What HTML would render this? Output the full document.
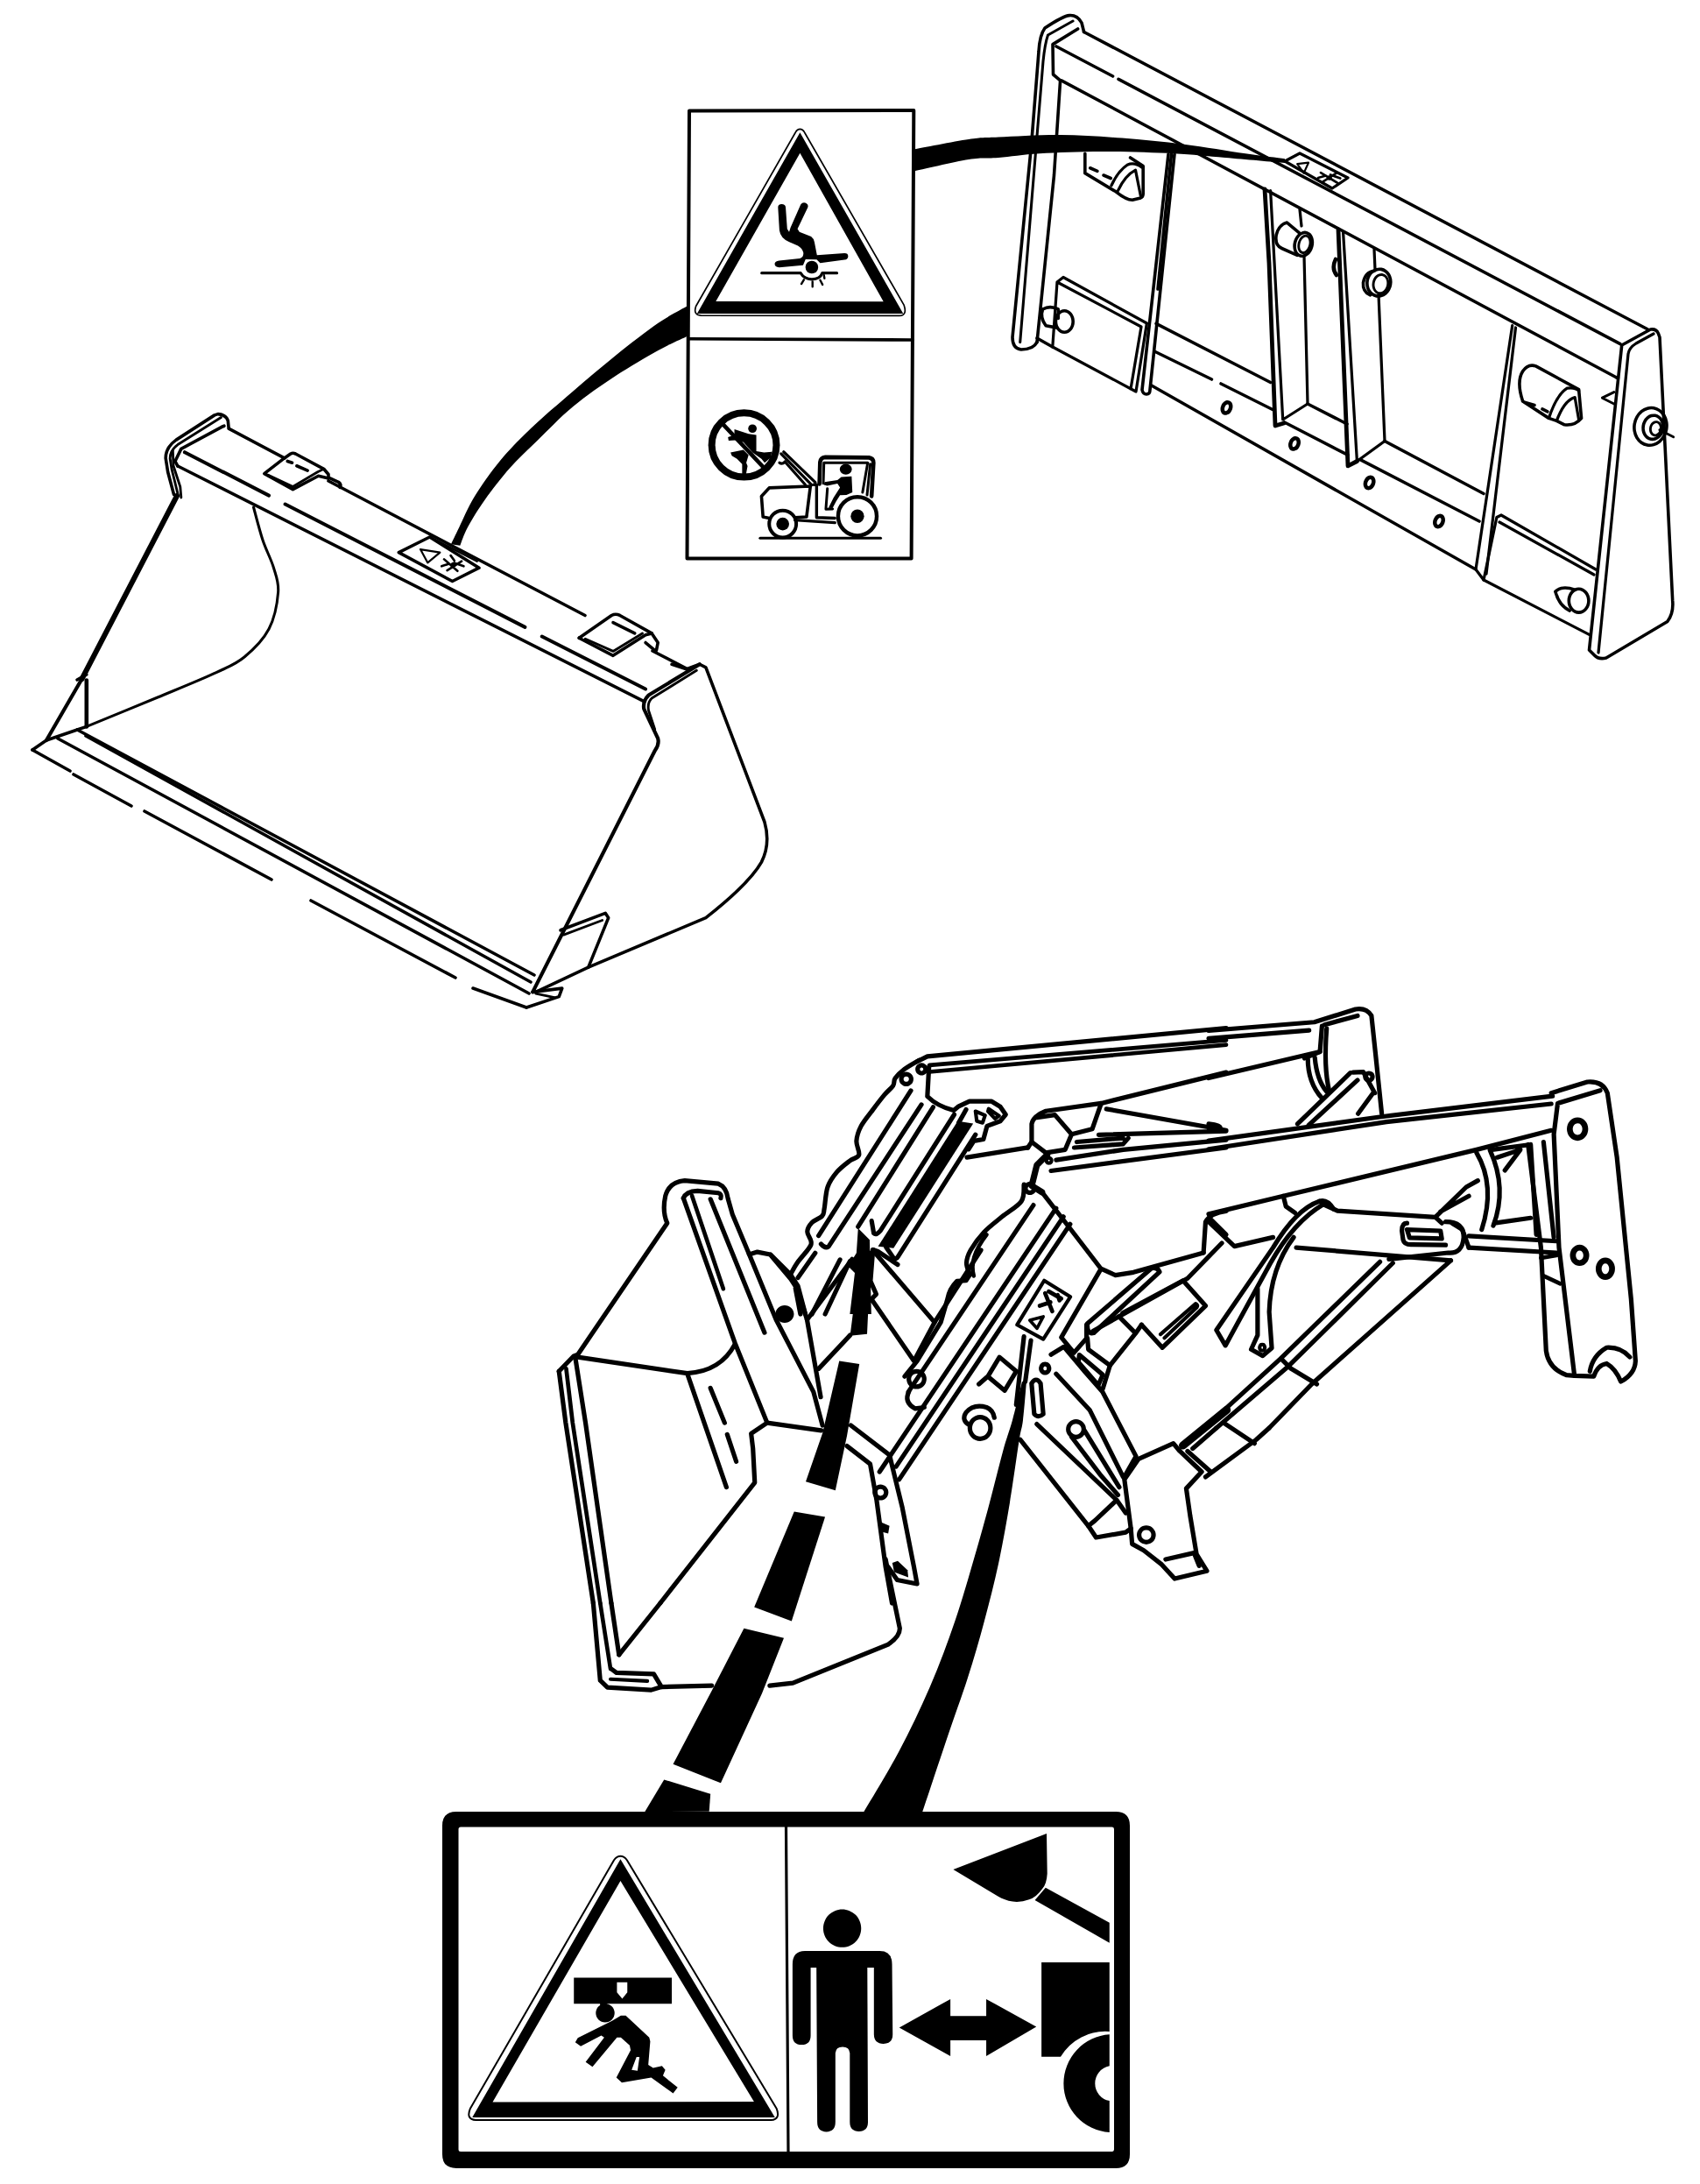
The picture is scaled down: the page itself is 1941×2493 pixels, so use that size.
<!DOCTYPE html>
<html><head><meta charset="utf-8"><title>Decal locations</title>
<style>html,body{margin:0;padding:0;background:#fff;font-family:"Liberation Sans",sans-serif}svg{display:block}</style></head>
<body>
<svg width="1941" height="2493" viewBox="0 0 1941 2493" fill="none" stroke="#000" stroke-linecap="round" stroke-linejoin="round">
<rect x="0" y="0" width="1941" height="2493" fill="#fff" stroke="none"/>
<g transform="translate(150 440) scale(0.176470)">
<path d="M 630,278 L 625,228 Q 612,188 560,185 L 538,192 L 290,352 Q 222,400 222,470 L 236,560 L 275,705" fill="none" stroke-width="20.40" />
<path d="M 580,207 L 300,383 Q 250,420 250,472 L 262,545 L 300,700" fill="none" stroke-width="16.32" />
<path d="M 600,262 L 585,268 L 322,410 L 283,490 L 300,522" fill="none" stroke-width="20.40" />
<path d="M 268,420 L 272,520 L 316,655 L 322,725" fill="none" stroke-width="16.32" />
<path d="M 990,470 L 1030,442 Q 1045,434 1062,442 L 1245,540 L 1275,575 L 1275,600" fill="none" stroke-width="20.40" />
<path d="M 990,470 L 860,570 L 1045,672 L 1210,585 L 1275,600" fill="none" stroke-width="20.40" />
<path d="M 885,580 L 1045,655 L 1205,560 L 1245,540" fill="none" stroke-width="16.32" />
<path d="M 1010,490 L 1040,500 M 1070,520 L 1140,550" fill="none" stroke-width="20.40" />
<path d="M 1285,600 L 1340,625 Q 1360,640 1350,660" fill="none" stroke-width="20.40" />
</g>
<g transform="translate(0 0) scale(1.000000)">
<path d="M 261.5,489.4 L 324.7,522.9" fill="none" stroke-width="3.60" />
<path d="M 375,549 L 668,702.5 M 745,743 L 784.7,763.5" fill="none" stroke-width="3.60" />
<path d="M 210.9,516.2 L 307,565.6 M 325.6,575.5 L 599.4,715.9 M 618.8,726.5 L 737,786.5" fill="none" stroke-width="4.00" />
<path d="M 203,532 L 735.3,800.6" fill="none" stroke-width="3.60" />
<path d="M 202,566 L 93.5,775" fill="none" stroke-width="6.00" />
<path d="M 93.5,775 L 53,845" fill="none" stroke-width="4.20" />
<path d="M 98.8,776.5 L 98.8,829.4" fill="none" stroke-width="4.60" />
<path d="M 88,776 L 98.8,770" fill="none" stroke-width="3.60" />
<path d="M 37,856 L 53,845 L 88.2,833 L 98.8,829.4" fill="none" stroke-width="3.60" />
<path d="M 289.5,579 C 291.2,585.2 296.2,605.0 300.0,616.5 C 303.8,628.0 309.5,638.1 312.4,648.0 C 315.3,657.9 318.5,664.3 317.6,676.0 C 316.7,687.7 313.4,705.7 307.0,718.0 C 300.6,730.3 289.0,741.7 279.0,750.0 C 269.0,758.3 263.5,759.9 247.0,767.6 C 230.5,775.3 204.7,785.7 180.0,796.0 C 155.3,806.3 112.3,823.8 98.8,829.4" fill="none" stroke-width="3.06" />
<path d="M 88.2,833 L 610,1113" fill="none" stroke-width="3.60" />
<path d="M 98,840 L 606,1121" fill="none" stroke-width="3.60" />
<path d="M 66,843 L 604,1134" fill="none" stroke-width="3.60" />
<path d="M 37,856 L 80,880 M 84,884 L 150,920 M 165,926 L 310,1004 M 355,1028 L 520,1116 M 540,1128 L 601,1150" fill="none" stroke-width="3.60" />
<path d="M 455.3,630.6 L 490.6,613 L 547,648.2 L 516.5,663.5 Z" fill="none" stroke-width="3.60" />
</g>
<g transform="translate(400 550) scale(0.352945)">
<path d="M 740,505 L 845,432 Q 858,425 872,432 L 975,490 L 995,520 L 990,545" fill="none" stroke-width="10.20" />
<path d="M 740,505 L 850,562 L 955,495 L 975,490" fill="none" stroke-width="10.20" />
<path d="M 760,508 L 850,548 L 945,490" fill="none" stroke-width="8.16" />
<path d="M 850,455 L 920,490" fill="none" stroke-width="10.20" />
<path d="M 955,520 L 985,545" fill="none" stroke-width="10.20" />
<path d="M 1090,605 L 1130,590 L 1150,600 L 1340,1100 Q 1360,1170 1330,1230 Q 1290,1300 1150,1410 L 770,1570 L 600,1650" fill="none" stroke-width="10.20" />
<path d="M 1130,590 L 965,690 Q 945,710 950,735 L 995,830 Q 1000,850 985,870 L 590,1650" fill="none" stroke-width="11.90" />
<path d="M 1120,610 L 975,700 Q 960,715 965,740 L 985,800" fill="none" stroke-width="8.16" />
<path d="M 1040,590 L 1085,605" fill="none" stroke-width="10.20" />
<path d="M 680,1450 L 825,1395 L 835,1410 L 770,1570" fill="none" stroke-width="10.20" />
<path d="M 690,1465 L 815,1418" fill="none" stroke-width="8.16" />
<path d="M 590,1650 L 685,1638 L 675,1665 L 570,1700" fill="none" stroke-width="10.20" />
<path d="M 600,1655 L 660,1668" fill="none" stroke-width="8.16" />
</g>
<g transform="translate(380 540) scale(0.235294)">
<path d="M 425,370 L 520,385 L 460,435 Z" fill="none" stroke-width="9.35" />
<path d="M 540,418 L 605,475 M 555,472 L 625,428 M 528,452 L 565,440 M 588,436 L 635,452 M 572,400 L 590,425" fill="none" stroke-width="11.05" />
<path d="M 599,445 C 599.0,446.5 598.6,448.2 597.9,449.6 C 597.3,451.0 596.2,452.4 594.9,453.5 C 593.6,454.6 592.0,455.5 590.4,456.1 C 588.7,456.7 586.8,457.0 585.0,457.0 C 583.2,457.0 581.3,456.7 579.6,456.1 C 578.0,455.5 576.4,454.6 575.1,453.5 C 573.8,452.4 572.7,451.0 572.1,449.6 C 571.4,448.2 571.0,446.5 571.0,445.0 C 571.0,443.5 571.4,441.8 572.1,440.4 C 572.7,439.0 573.8,437.6 575.1,436.5 C 576.4,435.4 578.0,434.5 579.6,433.9 C 581.3,433.3 583.2,433.0 585.0,433.0 C 586.8,433.0 588.7,433.3 590.4,433.9 C 592.0,434.5 593.6,435.4 594.9,436.5 C 596.2,437.6 597.3,439.0 597.9,440.4 C 598.6,441.8 599.0,443.5 599.0,445.0 Z" fill="#000" stroke="none" />
<path d="M 470,310 L 700,428" fill="none" stroke-width="10.20" />
</g>
<g transform="translate(1441 150) scale(0.297619)">
<path d="M 135,125 L 178,120 L 160,160 Z" fill="none" stroke-width="7.39" />
<path d="M 225,158 L 290,198 M 235,192 L 285,160 M 215,178 L 245,170 M 262,166 L 300,180" fill="none" stroke-width="8.74" />
<path d="M 268,178 C 268.0,179.1 267.7,180.4 267.2,181.4 C 266.8,182.5 266.0,183.6 265.1,184.4 C 264.2,185.2 263.0,185.9 261.8,186.3 C 260.6,186.8 259.3,187.0 258.0,187.0 C 256.7,187.0 255.4,186.8 254.2,186.3 C 253.0,185.9 251.8,185.2 250.9,184.4 C 250.0,183.6 249.2,182.5 248.8,181.4 C 248.3,180.4 248.0,179.1 248.0,178.0 C 248.0,176.9 248.3,175.6 248.8,174.6 C 249.2,173.5 250.0,172.4 250.9,171.6 C 251.8,170.8 253.0,170.1 254.2,169.7 C 255.4,169.2 256.7,169.0 258.0,169.0 C 259.3,169.0 260.6,169.2 261.8,169.7 C 263.0,170.1 264.2,170.8 265.1,171.6 C 266.0,172.4 266.8,173.5 267.2,174.6 C 267.7,175.6 268.0,176.9 268.0,178.0 Z" fill="#000" stroke="none" />
</g>
<g transform="translate(0 0) scale(1.000000)">
<path d="M 787,126.4 L 1043.3,126 L 1040.6,637.6 L 784.5,637.4 Z" fill="none" stroke-width="4.00" />
<path d="M 786,386.8 L 1042,388" fill="none" stroke-width="3.60" />
</g>
<g transform="translate(780 120) scale(0.158823)">
<path d="M 840,172 Q 860,172 872,195 L 1588,1438 Q 1612,1512 1555,1514 L 128,1512 Q 70,1508 92,1445 L 808,195 Q 820,172 840,172 Z" fill="none" stroke-width="10.70" />
<path d="M 840,196 L 1582,1498 L 100,1498 Z M 840,345 L 235,1410 L 1440,1412 Z" fill="#000" stroke="none" fill-rule="evenodd" stroke-linejoin="round"/>
<path d="M 682,735 Q 682,712 708,712 Q 735,712 737,735 L 748,890 L 762,912 L 772,880 L 845,715 Q 858,695 882,703 Q 903,712 896,735 L 822,890 L 836,912 L 920,945 Q 940,960 944,985 L 962,1078 L 1160,1064 Q 1186,1064 1186,1086 Q 1186,1108 1160,1112 L 985,1135 L 960,1110 L 880,1108 L 862,1150 L 690,1166 Q 658,1166 658,1140 Q 660,1122 690,1118 L 840,1102 Q 868,1092 864,1060 Q 858,1030 825,1010 L 760,982 Q 700,955 692,900 Z" fill="#000" stroke="none" />
<path d="M 925,1165 m -46,0 a 46,46 0 1,0 92,0 a 46,46 0 1,0 -92,0 Z" fill="#000" stroke="none" />
<path d="M 565,1207 L 845,1207 Q 870,1250 925,1252 Q 985,1250 1000,1207 L 1105,1207" fill="none" stroke-width="20.15" />
<path d="M 868,1255 L 850,1285 M 930,1268 L 930,1305 M 985,1258 L 1002,1290 M 1012,1222 L 1016,1245" fill="none" stroke-width="15.11" />
</g>
<g transform="translate(790 440) scale(0.147059)">
<path d="M 405,462 m -251,0 a 251,249 0 1,0 502,0 a 251,249 0 1,0 -502,0 Z" fill="none" stroke-width="54.40" />
<path d="M 245,305 L 565,645" fill="none" stroke-width="31.28" />
<path d="M 470,335 m -33,0 a 33,33 0 1,0 66,0 a 33,33 0 1,0 -66,0 Z" fill="#000" stroke="none" />
<path d="M 330,340 L 440,375 L 500,385 L 500,510 L 560,520 L 620,515 L 612,560 L 565,600 L 540,570 L 470,520 L 400,440 L 340,425 L 285,428 L 280,402 L 330,385 Z" fill="#000" stroke="none" />
<path d="M 300,520 L 400,500 L 440,540 L 422,600 L 432,625 L 420,690 L 390,690 L 390,610 L 350,570 L 310,545 Z" fill="#000" stroke="none" />
<path d="M 530,1185 L 1465,1185" fill="none" stroke-width="21.76" />
<path d="M 705,1075 m -105,0 a 105,105 0 1,0 210,0 a 105,105 0 1,0 -210,0 Z" fill="#fff" stroke-width="27.20" />
<path d="M 705,1075 m -50,0 a 50,50 0 1,0 100,0 a 50,50 0 1,0 -100,0 Z" fill="#000" stroke="none" />
<path d="M 600,1030 L 552,1020 L 540,860 L 600,795 L 920,782 L 890,1020 L 800,1025" fill="none" stroke-width="24.48" />
<path d="M 945,770 L 968,770 L 968,1025 L 1110,1030 M 800,1045 L 1110,1065" fill="none" stroke-width="23.12" />
<path d="M 990,765 L 995,595 Q 1000,560 1035,557 L 1375,560 Q 1410,565 1410,600 L 1395,860" fill="none" stroke-width="31.28" />
<path d="M 1020,760 L 1025,600 L 1365,600 L 1325,830 M 1385,610 L 1360,850" fill="none" stroke-width="20.40" />
<path d="M 930,772 L 692,530 M 958,752 L 712,515 M 722,592 L 880,770 M 680,600 Q 700,615 722,592" fill="none" stroke-width="21.76" />
<path d="M 1195,650 m -47,0 a 47,42 0 1,0 94,0 a 47,42 0 1,0 -94,0 Z" fill="#000" stroke="none" />
<path d="M 1160,710 L 1240,705 L 1246,830 L 1200,850 L 1150,852 L 1120,900 L 1092,952 L 1060,950 L 1100,870 L 1150,792 L 1130,762 L 1050,778 L 1025,772 L 1030,750 L 1130,735 Z" fill="#000" stroke="none" />
<path d="M 1052,800 L 1040,960 L 1092,958" fill="none" stroke-width="20.40" />
<path d="M 1285,1015 m -150,0 a 150,150 0 1,0 300,0 a 150,150 0 1,0 -300,0 Z" fill="#fff" stroke-width="29.92" />
<path d="M 1285,1015 m -52,0 a 52,52 0 1,0 104,0 a 52,52 0 1,0 -104,0 Z" fill="#000" stroke="none" />
</g>
<g transform="translate(470 330) scale(0.194118)">
<path d="M 1625,98 C 1595.8,115.0 1520.8,151.3 1450.0,200.0 C 1379.2,248.7 1283.3,323.3 1200.0,390.0 C 1116.7,456.7 1033.3,528.3 950.0,600.0 C 866.7,671.7 771.7,751.7 700.0,820.0 C 628.3,888.3 575.0,943.3 520.0,1010.0 C 465.0,1076.7 410.0,1155.0 370.0,1220.0 C 330.0,1285.0 303.0,1353.3 280.0,1400.0 C 257.0,1446.7 240.0,1483.3 232.0,1500.0 L 285,1508 C 292.5,1490.0 305.8,1444.7 330.0,1400.0 C 354.2,1355.3 388.3,1298.3 430.0,1240.0 C 471.7,1181.7 528.3,1108.3 580.0,1050.0 C 631.7,991.7 678.3,950.0 740.0,890.0 C 801.7,830.0 873.3,753.3 950.0,690.0 C 1026.7,626.7 1116.7,565.0 1200.0,510.0 C 1283.3,455.0 1379.2,399.2 1450.0,360.0 C 1520.8,320.8 1595.8,289.2 1625.0,275.0 Z" fill="#000" stroke="none" />
</g>
<g transform="translate(0 0) scale(1.000000)">
<path d="M 1041,171 C 1051.8,169.0 1089.5,161.4 1106.0,159.0 C 1122.5,156.6 1122.6,157.3 1140.0,156.5 C 1157.4,155.7 1187.1,153.8 1210.6,154.0 C 1234.1,154.2 1257.5,155.8 1281.0,157.6 C 1304.5,159.4 1328.3,161.8 1351.8,164.7 C 1375.3,167.6 1402.8,172.6 1422.0,175.3 C 1441.2,178.1 1459.5,180.2 1467.0,181.2 L 1467,186 C 1455.7,185.0 1420.2,181.8 1399.0,180.0 C 1377.8,178.2 1363.6,176.5 1340.0,175.3 C 1316.4,174.1 1283.1,173.0 1257.6,173.0 C 1232.1,173.0 1206.6,174.1 1187.0,175.3 C 1167.4,176.5 1153.5,178.9 1140.0,180.0 C 1126.5,181.1 1122.5,179.3 1106.0,182.0 C 1089.5,184.7 1051.8,193.7 1041.0,196.0 Z" fill="#000" stroke="none" />
</g>
<g transform="translate(0 0) scale(1.000000)">
<path d="M 1237.6,36.5 L 1881.5,376" fill="none" stroke-width="3.60" />
<path d="M 1206,53 L 1270.6,87 M 1277,90.4 L 1850,392.6" fill="none" stroke-width="3.60" />
<path d="M 1211.8,91.8 L 1845.8,431" fill="none" stroke-width="3.60" />
<path d="M 1467,184 L 1484,175 L 1539,203 L 1521,215 Z" fill="none" stroke-width="3.24" />
<path d="M 1237.6,36.5 L 1235,26 Q 1230,17 1221,17.6 Q 1214,18 1193,32 Q 1187,40 1186,59 L 1177.6,165 L 1156,385 Q 1156,398 1166,399 Q 1180,399 1184,390.6" fill="none" stroke-width="3.60" />
<path d="M 1196.5,40 L 1225,24 M 1196.5,40 Q 1193,50 1191,70 L 1164.7,390.6" fill="none" stroke-width="3.06" />
<path d="M 1230.6,33 L 1202,50.6 L 1202.5,85 L 1210.6,91.8 L 1203.5,200 L 1184,390.6" fill="none" stroke-width="3.60" />
<path d="M 1334,176 L 1304,445 Q 1305,450 1309,450 Q 1313,450 1313,445 L 1341,176" fill="none" stroke-width="3.60" />
<path d="M 1337.5,176 L 1322,330" fill="none" stroke-width="3.60" />
<path d="M 1201.8,396 L 1207,322 L 1214,316.5 L 1309.4,369 L 1297,447 L 1201.8,396 M 1207,322 L 1303,373 L 1291,444" fill="none" stroke-width="3.24" />
<path d="M 1184,386 L 1201.8,396" fill="none" stroke-width="3.60" />
<path d="M 1320,369.4 L 1450.6,436.5" fill="none" stroke-width="3.60" />
<path d="M 1318,401 L 1383.5,433 M 1394,438 L 1454,468" fill="none" stroke-width="3.60" />
<path d="M 1314.7,440 L 1685,650" fill="none" stroke-width="3.60" />
<path d="M 1466.5,482 L 1539,519.4 M 1493,461 L 1538,484" fill="none" stroke-width="3.60" />
<path d="M 1581,503.5 L 1694,563.5 M 1553,524.7 L 1689,595" fill="none" stroke-width="3.60" />
<path d="M 1444,216 L 1449,300 L 1456,486 L 1466,483" fill="none" stroke-width="4.80" />
<path d="M 1450.6,217.6 L 1464.7,479 L 1493,461" fill="none" stroke-width="3.24" />
<path d="M 1484,239 L 1486,258 M 1489,292 L 1493,461" fill="none" stroke-width="3.24" />
<path d="M 1528,261.8 L 1539,531.8 L 1549.4,526.5" fill="none" stroke-width="4.80" />
<path d="M 1533.6,265.3 L 1549.4,526.5 L 1581,503.5" fill="none" stroke-width="3.24" />
<path d="M 1569,284.7 L 1570,308 M 1574,336 L 1581,503.5" fill="none" stroke-width="3.24" />
<path d="M 1525,296 Q 1520,306 1526,314" fill="none" stroke-width="4.60" />
<path d="M 1726.7,371.7 L 1685,650 L 1694,662 M 1730.5,374 L 1697,655" fill="none" stroke-width="3.24" />
<path d="M 1694,662 L 1708.9,590.5 L 1714,588 L 1822,650 M 1694,662 L 1814.5,724.4 M 1712,596 L 1820,656" fill="none" stroke-width="3.24" />
<path d="M 1851.7,394 L 1884.5,376 Q 1891,375 1893.4,380.6 L 1895,385 L 1909.7,685.7 Q 1911,700 1903.8,709.5 L 1833.9,751 Q 1825,753 1820.5,748 L 1814.5,742 L 1851.7,394" fill="none" stroke-width="3.60" />
<path d="M 1859,404 Q 1860,397 1868,392 L 1888,381 M 1859,404 L 1825,745" fill="none" stroke-width="3.24" />
<path d="M 1845.8,431 L 1847.5,431.5" fill="none" stroke-width="3.60" />
</g>
<g transform="translate(0 0) scale(1.000000)">
<path d="M 1404.58,467.048 C 1404.3,467.8 1403.8,468.6 1403.4,469.2 C 1402.9,469.8 1402.3,470.4 1401.7,470.8 C 1401.1,471.1 1400.4,471.4 1399.8,471.5 C 1399.2,471.6 1398.6,471.5 1398.1,471.3 C 1397.6,471.1 1397.1,470.7 1396.7,470.3 C 1396.4,469.8 1396.1,469.1 1395.9,468.4 C 1395.8,467.7 1395.7,466.9 1395.8,466.1 C 1395.9,465.4 1396.1,464.5 1396.4,463.8 C 1396.7,463.0 1397.2,462.2 1397.6,461.6 C 1398.1,461.0 1398.7,460.4 1399.3,460.0 C 1399.9,459.7 1400.6,459.4 1401.2,459.3 C 1401.8,459.2 1402.4,459.3 1402.9,459.5 C 1403.4,459.7 1403.9,460.1 1404.3,460.5 C 1404.6,461.0 1404.9,461.7 1405.1,462.4 C 1405.2,463.1 1405.3,463.9 1405.2,464.7 C 1405.1,465.4 1404.9,466.3 1404.6,467.0 Z" fill="none" stroke-width="4.50" />
<path d="M 1482.08,508.048 C 1481.8,508.8 1481.3,509.6 1480.9,510.2 C 1480.4,510.8 1479.8,511.4 1479.2,511.8 C 1478.6,512.1 1477.9,512.4 1477.3,512.5 C 1476.7,512.6 1476.1,512.5 1475.6,512.3 C 1475.1,512.1 1474.6,511.7 1474.2,511.3 C 1473.9,510.8 1473.6,510.1 1473.4,509.4 C 1473.3,508.7 1473.2,507.9 1473.3,507.1 C 1473.4,506.4 1473.6,505.5 1473.9,504.8 C 1474.2,504.0 1474.7,503.2 1475.1,502.6 C 1475.6,502.0 1476.2,501.4 1476.8,501.0 C 1477.4,500.7 1478.1,500.4 1478.7,500.3 C 1479.3,500.2 1479.9,500.3 1480.4,500.5 C 1480.9,500.7 1481.4,501.1 1481.8,501.5 C 1482.1,502.0 1482.4,502.7 1482.6,503.4 C 1482.7,504.1 1482.8,504.9 1482.7,505.7 C 1482.6,506.4 1482.4,507.3 1482.1,508.0 Z" fill="none" stroke-width="4.50" />
<path d="M 1567.68,552.648 C 1567.4,553.4 1566.9,554.2 1566.5,554.8 C 1566.0,555.4 1565.4,556.0 1564.8,556.4 C 1564.2,556.7 1563.5,557.0 1562.9,557.1 C 1562.3,557.2 1561.7,557.1 1561.2,556.9 C 1560.7,556.7 1560.2,556.3 1559.8,555.9 C 1559.5,555.4 1559.2,554.7 1559.0,554.0 C 1558.9,553.3 1558.8,552.5 1558.9,551.7 C 1559.0,551.0 1559.2,550.1 1559.5,549.4 C 1559.8,548.6 1560.3,547.8 1560.7,547.2 C 1561.2,546.6 1561.8,546.0 1562.4,545.6 C 1563.0,545.3 1563.7,545.0 1564.3,544.9 C 1564.9,544.8 1565.5,544.9 1566.0,545.1 C 1566.5,545.3 1567.0,545.7 1567.4,546.1 C 1567.7,546.6 1568.0,547.3 1568.2,548.0 C 1568.3,548.7 1568.4,549.5 1568.3,550.3 C 1568.2,551.0 1568.0,551.9 1567.7,552.6 Z" fill="none" stroke-width="4.50" />
<path d="M 1647.08,596.648 C 1646.8,597.4 1646.3,598.2 1645.9,598.8 C 1645.4,599.4 1644.8,600.0 1644.2,600.4 C 1643.6,600.7 1642.9,601.0 1642.3,601.1 C 1641.7,601.2 1641.1,601.1 1640.6,600.9 C 1640.1,600.7 1639.6,600.3 1639.2,599.9 C 1638.9,599.4 1638.6,598.7 1638.4,598.0 C 1638.3,597.3 1638.2,596.5 1638.3,595.7 C 1638.4,595.0 1638.6,594.1 1638.9,593.4 C 1639.2,592.6 1639.7,591.8 1640.1,591.2 C 1640.6,590.6 1641.2,590.0 1641.8,589.6 C 1642.4,589.3 1643.1,589.0 1643.7,588.9 C 1644.3,588.8 1644.9,588.9 1645.4,589.1 C 1645.9,589.3 1646.4,589.7 1646.8,590.1 C 1647.1,590.6 1647.4,591.3 1647.6,592.0 C 1647.7,592.7 1647.8,593.5 1647.7,594.3 C 1647.6,595.0 1647.4,595.9 1647.1,596.6 Z" fill="none" stroke-width="4.50" />
</g>
<g transform="translate(1140 0) scale(0.235294)">
<path d="M 420,745 L 420,840 L 570,930 Q 620,970 650,970 L 690,960 Q 702,955 702,940 L 702,805 L 640,765" fill="none" stroke-width="15.30" />
<path d="M 548,900 Q 580,830 625,800 Q 660,785 695,812 M 580,925 Q 615,850 665,825 L 690,950" fill="none" stroke-width="13.77" />
<path d="M 445,815 L 480,830 M 510,850 L 545,865" fill="none" stroke-width="15.30" />
<path d="M 362,1560 C 362.0,1566.6 360.9,1573.8 358.8,1579.9 C 356.8,1586.0 353.5,1592.1 349.7,1596.8 C 345.9,1601.5 341.0,1605.5 336.1,1608.0 C 331.1,1610.6 325.4,1612.0 320.0,1612.0 C 314.6,1612.0 308.9,1610.6 303.9,1608.0 C 299.0,1605.5 294.1,1601.5 290.3,1596.8 C 286.5,1592.1 283.2,1586.0 281.2,1579.9 C 279.1,1573.8 278.0,1566.6 278.0,1560.0 C 278.0,1553.4 279.1,1546.2 281.2,1540.1 C 283.2,1534.0 286.5,1527.9 290.3,1523.2 C 294.1,1518.5 299.0,1514.5 303.9,1512.0 C 308.9,1509.4 314.6,1508.0 320.0,1508.0 C 325.4,1508.0 331.1,1509.4 336.1,1512.0 C 341.0,1514.5 345.9,1518.5 349.7,1523.2 C 353.5,1527.9 356.8,1534.0 358.8,1540.1 C 360.9,1546.2 362.0,1553.4 362.0,1560.0 Z" fill="none" stroke-width="15.30" />
<path d="M 215,1500 Q 250,1480 290,1500 L 290,1545 M 215,1500 Q 200,1540 230,1580 L 285,1590" fill="none" stroke-width="15.30" />
<path d="M 1520.57,1195.87 C 1518.7,1203.0 1515.5,1210.4 1511.7,1216.5 C 1508.0,1222.6 1503.1,1228.2 1498.1,1232.3 C 1493.1,1236.4 1487.2,1239.5 1481.7,1240.9 C 1476.1,1242.4 1470.2,1242.4 1465.0,1241.0 C 1459.8,1239.6 1454.7,1236.6 1450.6,1232.6 C 1446.6,1228.6 1443.0,1223.0 1440.7,1216.9 C 1438.4,1210.9 1437.0,1203.5 1436.8,1196.4 C 1436.6,1189.3 1437.5,1181.3 1439.4,1174.1 C 1441.3,1167.0 1444.5,1159.6 1448.3,1153.5 C 1452.0,1147.4 1456.9,1141.8 1461.9,1137.7 C 1466.9,1133.6 1472.8,1130.5 1478.3,1129.1 C 1483.9,1127.6 1489.8,1127.6 1495.0,1129.0 C 1500.2,1130.4 1505.3,1133.4 1509.4,1137.4 C 1513.4,1141.4 1517.0,1147.0 1519.3,1153.1 C 1521.6,1159.1 1523.0,1166.5 1523.2,1173.6 C 1523.4,1180.7 1522.5,1188.7 1520.6,1195.9 Z" fill="none" stroke-width="15.30" />
<path d="M 1511.08,1191.99 C 1509.7,1197.2 1507.5,1202.5 1504.9,1207.0 C 1502.4,1211.4 1499.1,1215.6 1495.8,1218.6 C 1492.4,1221.7 1488.5,1224.0 1484.9,1225.2 C 1481.3,1226.3 1477.5,1226.5 1474.1,1225.6 C 1470.8,1224.7 1467.5,1222.6 1465.0,1219.8 C 1462.4,1217.0 1460.2,1213.0 1458.9,1208.7 C 1457.5,1204.5 1456.7,1199.2 1456.7,1194.1 C 1456.8,1188.9 1457.5,1183.2 1458.9,1178.0 C 1460.3,1172.8 1462.5,1167.5 1465.1,1163.0 C 1467.6,1158.6 1470.9,1154.4 1474.2,1151.4 C 1477.6,1148.3 1481.5,1146.0 1485.1,1144.8 C 1488.7,1143.7 1492.5,1143.5 1495.9,1144.4 C 1499.2,1145.3 1502.5,1147.4 1505.0,1150.2 C 1507.6,1153.0 1509.8,1157.0 1511.1,1161.3 C 1512.5,1165.5 1513.3,1170.8 1513.3,1175.9 C 1513.2,1181.1 1512.5,1186.8 1511.1,1192.0 Z" fill="none" stroke-width="12.24" />
<path d="M 1460,1130 L 1400,1080 Q 1360,1090 1348,1140 Q 1340,1190 1375,1205 L 1450,1238" fill="none" stroke-width="15.30" />
</g>
<g transform="translate(1441 150) scale(0.297619)">
<path d="M 492.316,587.814 C 491.2,594.3 488.7,601.2 485.5,606.8 C 482.3,612.5 477.8,617.8 473.0,621.7 C 468.1,625.7 462.3,628.7 456.6,630.3 C 451.0,631.9 444.6,632.2 439.0,631.2 C 433.3,630.2 427.5,627.7 422.7,624.3 C 417.9,620.9 413.5,616.0 410.3,610.7 C 407.1,605.4 404.7,598.8 403.6,592.4 C 402.5,586.0 402.5,578.7 403.7,572.2 C 404.8,565.7 407.3,558.8 410.5,553.2 C 413.7,547.5 418.2,542.2 423.0,538.3 C 427.9,534.3 433.7,531.3 439.4,529.7 C 445.0,528.1 451.4,527.8 457.0,528.8 C 462.7,529.8 468.5,532.3 473.3,535.7 C 478.1,539.1 482.5,544.0 485.7,549.3 C 488.9,554.6 491.3,561.2 492.4,567.6 C 493.5,574.0 493.5,581.3 492.3,587.8 Z" fill="none" stroke-width="12.10" />
<path d="M 482.575,589.862 C 481.8,594.4 480.2,599.1 478.1,603.1 C 476.0,607.0 473.1,610.7 470.1,613.5 C 467.0,616.3 463.3,618.5 459.8,619.6 C 456.2,620.8 452.3,621.1 448.7,620.5 C 445.2,619.8 441.6,618.2 438.7,615.9 C 435.7,613.6 433.0,610.3 431.1,606.6 C 429.2,603.0 427.7,598.5 427.1,594.1 C 426.5,589.7 426.6,584.7 427.4,580.1 C 428.2,575.6 429.8,570.9 431.9,566.9 C 434.0,563.0 436.9,559.3 439.9,556.5 C 443.0,553.7 446.7,551.5 450.2,550.4 C 453.8,549.2 457.7,548.9 461.3,549.5 C 464.8,550.2 468.4,551.8 471.3,554.1 C 474.3,556.4 477.0,559.7 478.9,563.4 C 480.8,567.0 482.3,571.5 482.9,575.9 C 483.5,580.3 483.4,585.3 482.6,589.9 Z" fill="none" stroke-width="9.68" />
<path d="M 430,535 Q 395,540 388,580 Q 385,615 415,628" fill="none" stroke-width="12.10" />
<path d="M 1000,1035 Q 975,960 1000,920 Q 1020,890 1050,900 L 1215,990 L 1225,1100 Q 1200,1130 1160,1125 L 1130,1110 L 1100,1100 L 1000,1035" fill="none" stroke-width="12.10" />
<path d="M 1100,1100 Q 1130,1010 1170,985 Q 1200,980 1215,995 M 1130,1110 Q 1160,1030 1200,1020 L 1215,1105" fill="none" stroke-width="10.89" />
<path d="M 1010,1040 L 1045,1050 M 1075,1065 L 1095,1075" fill="none" stroke-width="12.10" />
<path d="M 1551.06,1142.77 C 1549.5,1151.8 1546.1,1161.3 1541.6,1169.1 C 1537.2,1176.9 1531.0,1184.3 1524.3,1189.8 C 1517.7,1195.2 1509.6,1199.4 1501.8,1201.6 C 1494.0,1203.8 1485.3,1204.3 1477.5,1202.9 C 1469.7,1201.5 1461.7,1198.1 1455.1,1193.4 C 1448.5,1188.7 1442.4,1181.9 1438.0,1174.5 C 1433.6,1167.2 1430.3,1158.1 1428.8,1149.2 C 1427.3,1140.3 1427.3,1130.3 1428.9,1121.2 C 1430.5,1112.2 1433.9,1102.7 1438.4,1094.9 C 1442.8,1087.1 1449.0,1079.7 1455.7,1074.2 C 1462.3,1068.8 1470.4,1064.6 1478.2,1062.4 C 1486.0,1060.2 1494.7,1059.7 1502.5,1061.1 C 1510.3,1062.5 1518.3,1065.9 1524.9,1070.6 C 1531.5,1075.3 1537.6,1082.1 1542.0,1089.5 C 1546.4,1096.8 1549.7,1105.9 1551.2,1114.8 C 1552.7,1123.7 1552.7,1133.7 1551.1,1142.8 Z" fill="none" stroke-width="12.10" />
<path d="M 1537.42,1141.6 C 1536.4,1147.4 1534.3,1153.4 1531.5,1158.4 C 1528.7,1163.4 1524.9,1168.2 1520.8,1171.7 C 1516.7,1175.2 1511.7,1177.9 1506.9,1179.4 C 1502.1,1180.8 1496.8,1181.1 1492.0,1180.3 C 1487.2,1179.5 1482.3,1177.3 1478.3,1174.3 C 1474.3,1171.3 1470.5,1167.0 1467.9,1162.4 C 1465.2,1157.7 1463.3,1151.9 1462.4,1146.2 C 1461.5,1140.6 1461.6,1134.2 1462.6,1128.4 C 1463.6,1122.6 1465.7,1116.6 1468.5,1111.6 C 1471.3,1106.6 1475.1,1101.8 1479.2,1098.3 C 1483.3,1094.8 1488.3,1092.1 1493.1,1090.6 C 1497.9,1089.2 1503.2,1088.9 1508.0,1089.7 C 1512.8,1090.5 1517.7,1092.7 1521.7,1095.7 C 1525.7,1098.7 1529.5,1103.0 1532.1,1107.6 C 1534.8,1112.3 1536.7,1118.1 1537.6,1123.8 C 1538.5,1129.4 1538.4,1135.8 1537.4,1141.6 Z" fill="none" stroke-width="12.10" />
<path d="M 1529.7,1143.47 C 1529.1,1146.7 1528.0,1150.2 1526.5,1153.0 C 1525.0,1155.9 1522.9,1158.6 1520.7,1160.6 C 1518.6,1162.6 1515.9,1164.1 1513.4,1165.0 C 1510.8,1165.8 1508.0,1166.0 1505.5,1165.6 C 1503.0,1165.2 1500.4,1164.0 1498.3,1162.3 C 1496.2,1160.7 1494.2,1158.3 1492.9,1155.6 C 1491.5,1153.0 1490.5,1149.8 1490.1,1146.6 C 1489.6,1143.4 1489.7,1139.8 1490.3,1136.5 C 1490.9,1133.3 1492.0,1129.8 1493.5,1127.0 C 1495.0,1124.1 1497.1,1121.4 1499.3,1119.4 C 1501.4,1117.4 1504.1,1115.9 1506.6,1115.0 C 1509.2,1114.2 1512.0,1114.0 1514.5,1114.4 C 1517.0,1114.8 1519.6,1116.0 1521.7,1117.7 C 1523.8,1119.3 1525.8,1121.7 1527.1,1124.4 C 1528.5,1127.0 1529.5,1130.2 1529.9,1133.4 C 1530.4,1136.6 1530.3,1140.2 1529.7,1143.5 Z" fill="none" stroke-width="9.68" />
<path d="M 1525,1145 L 1578,1172" fill="none" stroke-width="9.68" />
<path d="M 1350,1000 L 1305,1022 L 1350,1045" fill="none" stroke-width="9.68" />
<path d="M 1253,1800 C 1253.0,1805.7 1252.0,1811.9 1250.1,1817.2 C 1248.3,1822.5 1245.3,1827.8 1241.9,1831.8 C 1238.4,1835.9 1234.0,1839.4 1229.5,1841.6 C 1225.1,1843.8 1219.8,1845.0 1215.0,1845.0 C 1210.2,1845.0 1204.9,1843.8 1200.5,1841.6 C 1196.0,1839.4 1191.6,1835.9 1188.1,1831.8 C 1184.7,1827.8 1181.7,1822.5 1179.9,1817.2 C 1178.0,1811.9 1177.0,1805.7 1177.0,1800.0 C 1177.0,1794.3 1178.0,1788.1 1179.9,1782.8 C 1181.7,1777.5 1184.7,1772.2 1188.1,1768.2 C 1191.6,1764.1 1196.0,1760.6 1200.5,1758.4 C 1204.9,1756.2 1210.2,1755.0 1215.0,1755.0 C 1219.8,1755.0 1225.1,1756.2 1229.5,1758.4 C 1234.0,1760.6 1238.4,1764.1 1241.9,1768.2 C 1245.3,1772.2 1248.3,1777.5 1250.1,1782.8 C 1252.0,1788.1 1253.0,1794.3 1253.0,1800.0 Z" fill="none" stroke-width="12.10" />
<path d="M 1200,1758 Q 1150,1740 1125,1765 Q 1140,1820 1180,1838" fill="none" stroke-width="12.10" />
</g>
<g transform="translate(620 1330) scale(0.294118)">
<path d="M 62,800 L 118,742 L 135,735 L 482,225 Q 462,180 475,120 Q 490,65 550,60 L 680,72 Q 712,85 718,130 L 735,190 L 800,345" fill="none" stroke-width="17.68" />
<path d="M 545,128 Q 555,102 600,100 L 680,108 Q 695,112 690,128" fill="none" stroke-width="17.68" />
<path d="M 545,128 L 745,690 L 870,1000" fill="none" stroke-width="17.68" />
<path d="M 578,118 L 700,480" fill="none" stroke-width="15.91" />
<path d="M 650,132 L 860,650" fill="none" stroke-width="17.68" />
<path d="M 800,345 L 905,600 L 1050,880 L 1085,1010" fill="none" stroke-width="17.68" />
<path d="M 805,345 L 832,337 L 882,347 L 962,442 L 988,482 L 1025,600 L 1078,900" fill="none" stroke-width="17.68" />
<path d="M 974,578 C 974.0,582.3 973.0,587.0 971.3,591.0 C 969.5,595.0 966.7,599.0 963.5,602.0 C 960.2,605.1 956.0,607.8 951.8,609.4 C 947.5,611.1 942.6,612.0 938.0,612.0 C 933.4,612.0 928.5,611.1 924.2,609.4 C 920.0,607.8 915.8,605.1 912.5,602.0 C 909.3,599.0 906.5,595.0 904.7,591.0 C 903.0,587.0 902.0,582.3 902.0,578.0 C 902.0,573.7 903.0,569.0 904.7,565.0 C 906.5,561.0 909.3,557.0 912.5,554.0 C 915.8,550.9 920.0,548.2 924.2,546.6 C 928.5,544.9 933.4,544.0 938.0,544.0 C 942.6,544.0 947.5,544.9 951.8,546.6 C 956.0,548.2 960.2,550.9 963.5,554.0 C 966.7,557.0 969.5,561.0 971.3,565.0 C 973.0,569.0 974.0,573.7 974.0,578.0 Z" fill="#000" stroke="none" />
<path d="M 62,800 L 88,1000 L 195,1700" fill="none" stroke-width="17.68" />
<path d="M 90,790 L 115,1000 L 222,1700" fill="none" stroke-width="15.91" />
<path d="M 125,745 L 165,1000 L 265,1700" fill="none" stroke-width="17.68" />
<path d="M 135,745 L 560,808 Q 690,800 745,695" fill="none" stroke-width="17.68" />
<path d="M 562,815 L 712,1250" fill="none" stroke-width="17.68" />
<path d="M 650,865 L 705,1000 M 715,1045 L 750,1150" fill="none" stroke-width="17.68" />
<path d="M 870,1000 L 1080,1030" fill="none" stroke-width="17.68" />
<path d="M 870,1000 L 808,1042 L 815,1100 L 822,1232 L 455,1700" fill="none" stroke-width="17.68" />
<path d="M 1225,330 L 1275,332 L 1270,400 L 1258,655 L 1192,662 L 1205,560 L 1215,400 L 1190,395 Z" fill="#000" stroke="none" />
<path d="M 1150,760 L 1228,772 L 1180,1050 L 1135,1262 L 1020,1228 L 1085,1040 Z" fill="#000" stroke="none" />
<path d="M 975,1345 L 1095,1365 L 965,1770 L 820,1715 Z" fill="#000" stroke="none" />
<path d="M 1025,600 L 1200,365 M 1070,790 L 1192,660" fill="none" stroke-width="17.68" />
<path d="M 1195,1010 L 1345,1125 L 1395,1330 L 1440,1560 L 1452,1625 L 1375,1610 L 1340,1560" fill="none" stroke-width="17.68" />
<path d="M 1180,1090 L 1270,1160 L 1295,1300 L 1330,1560 L 1355,1700" fill="none" stroke-width="17.68" />
<path d="M 1332,1270 C 1332.0,1272.8 1331.4,1275.8 1330.3,1278.4 C 1329.3,1281.0 1327.5,1283.6 1325.6,1285.6 C 1323.6,1287.5 1321.0,1289.3 1318.4,1290.3 C 1315.8,1291.4 1312.8,1292.0 1310.0,1292.0 C 1307.2,1292.0 1304.2,1291.4 1301.6,1290.3 C 1299.0,1289.3 1296.4,1287.5 1294.4,1285.6 C 1292.5,1283.6 1290.7,1281.0 1289.7,1278.4 C 1288.6,1275.8 1288.0,1272.8 1288.0,1270.0 C 1288.0,1267.2 1288.6,1264.2 1289.7,1261.6 C 1290.7,1259.0 1292.5,1256.4 1294.4,1254.4 C 1296.4,1252.5 1299.0,1250.7 1301.6,1249.7 C 1304.2,1248.6 1307.2,1248.0 1310.0,1248.0 C 1312.8,1248.0 1315.8,1248.6 1318.4,1249.7 C 1321.0,1250.7 1323.6,1252.5 1325.6,1254.4 C 1327.5,1256.4 1329.3,1259.0 1330.3,1261.6 C 1331.4,1264.2 1332.0,1267.2 1332.0,1270.0 Z" fill="none" stroke-width="17.68" />
<path d="M 1300,1380 L 1345,1400 L 1340,1430 L 1305,1420 Z" fill="#000" stroke="none" />
<path d="M 1280,330 L 1520,610 L 1440,760 L 1275,520" fill="none" stroke-width="17.68" />
<path d="M 1520,610 L 1700,330" fill="none" stroke-width="17.68" />
<path d="M 1480,830 C 1480.0,833.8 1479.2,837.9 1477.7,841.5 C 1476.3,845.0 1473.9,848.5 1471.2,851.2 C 1468.5,853.9 1465.0,856.3 1461.5,857.7 C 1457.9,859.2 1453.8,860.0 1450.0,860.0 C 1446.2,860.0 1442.1,859.2 1438.5,857.7 C 1435.0,856.3 1431.5,853.9 1428.8,851.2 C 1426.1,848.5 1423.7,845.0 1422.3,841.5 C 1420.8,837.9 1420.0,833.8 1420.0,830.0 C 1420.0,826.2 1420.8,822.1 1422.3,818.5 C 1423.7,815.0 1426.1,811.5 1428.8,808.8 C 1431.5,806.1 1435.0,803.7 1438.5,802.3 C 1442.1,800.8 1446.2,800.0 1450.0,800.0 C 1453.8,800.0 1457.9,800.8 1461.5,802.3 C 1465.0,803.7 1468.5,806.1 1471.2,808.8 C 1473.9,811.5 1476.3,815.0 1477.7,818.5 C 1479.2,822.1 1480.0,826.2 1480.0,830.0 Z" fill="none" stroke-width="17.68" />
<path d="M 1420,880 Q 1400,920 1445,945 L 1480,940" fill="none" stroke-width="17.68" />
</g>
<g transform="translate(880 1180) scale(0.188235)">
<path d="M 900,160 C 885.0,169.2 834.2,196.7 810.0,215.0 C 785.8,233.3 766.3,253.3 755.0,270.0 C 743.7,286.7 752.8,298.3 742.0,315.0 C 731.2,331.7 710.3,345.8 690.0,370.0 C 669.7,394.2 643.7,428.3 620.0,460.0 C 596.3,491.7 564.7,528.3 548.0,560.0 C 531.3,591.7 522.2,620.8 520.0,650.0 C 517.8,679.2 541.7,715.0 535.0,735.0 C 528.3,755.0 502.5,752.5 480.0,770.0 C 457.5,787.5 422.5,813.3 400.0,840.0 C 377.5,866.7 357.5,893.3 345.0,930.0 C 332.5,966.7 330.5,1030.8 325.0,1060.0 C 319.5,1089.2 324.5,1090.8 312.0,1105.0 C 299.5,1119.2 265.0,1129.2 250.0,1145.0 C 235.0,1160.8 222.8,1180.8 222.0,1200.0 C 221.2,1219.2 243.3,1243.3 245.0,1260.0 C 246.7,1276.7 246.2,1278.3 232.0,1300.0 C 217.8,1321.7 178.7,1363.3 160.0,1390.0 C 141.3,1416.7 126.7,1448.3 120.0,1460.0" fill="none" stroke-width="27.62" />
<path d="M 120,1460 L 0,1340 M 120,1460 L 165,1530 L 210,1700 M 150,1545 L 180,1700" fill="none" stroke-width="27.62" />
<path d="M 852,275 C 852.0,278.8 851.2,282.9 849.7,286.5 C 848.3,290.0 845.9,293.5 843.2,296.2 C 840.5,298.9 837.0,301.3 833.5,302.7 C 829.9,304.2 825.8,305.0 822.0,305.0 C 818.2,305.0 814.1,304.2 810.5,302.7 C 807.0,301.3 803.5,298.9 800.8,296.2 C 798.1,293.5 795.7,290.0 794.3,286.5 C 792.8,282.9 792.0,278.8 792.0,275.0 C 792.0,271.2 792.8,267.1 794.3,263.5 C 795.7,260.0 798.1,256.5 800.8,253.8 C 803.5,251.1 807.0,248.7 810.5,247.3 C 814.1,245.8 818.2,245.0 822.0,245.0 C 825.8,245.0 829.9,245.8 833.5,247.3 C 837.0,248.7 840.5,251.1 843.2,253.8 C 845.9,256.5 848.3,260.0 849.7,263.5 C 851.2,267.1 852.0,271.2 852.0,275.0 Z" fill="none" stroke-width="27.62" />
<path d="M 939,215 C 939.0,218.1 938.3,221.4 937.2,224.2 C 936.0,227.0 934.1,229.8 932.0,232.0 C 929.8,234.1 927.0,236.0 924.2,237.2 C 921.4,238.3 918.1,239.0 915.0,239.0 C 911.9,239.0 908.6,238.3 905.8,237.2 C 903.0,236.0 900.2,234.1 898.0,232.0 C 895.9,229.8 894.0,227.0 892.8,224.2 C 891.7,221.4 891.0,218.1 891.0,215.0 C 891.0,211.9 891.7,208.6 892.8,205.8 C 894.0,203.0 895.9,200.2 898.0,198.0 C 900.2,195.9 903.0,194.0 905.8,192.8 C 908.6,191.7 911.9,191.0 915.0,191.0 C 918.1,191.0 921.4,191.7 924.2,192.8 C 927.0,194.0 929.8,195.9 932.0,198.0 C 934.1,200.2 936.0,203.0 937.2,205.8 C 938.3,208.6 939.0,211.9 939.0,215.0 Z" fill="none" stroke-width="27.62" />
<path d="M 850,345 L 290,1225" fill="none" stroke-width="27.62" />
<path d="M 914,430 L 351,1290 Q 330,1305 305,1275" fill="none" stroke-width="27.62" />
<path d="M 270,1330 L 165,1480" fill="none" stroke-width="27.62" />
<path d="M 985,445 L 530,1170" fill="none" stroke-width="27.62" />
<path d="M 1113,490 L 665,1195 Q 640,1225 625,1210 L 612,1135" fill="none" stroke-width="27.62" />
<path d="M 1134,530 L 1228,545 L 745,1300 L 651,1290 Z" fill="#000" stroke="none" />
<path d="M 1185,460 L 1140,540" fill="none" stroke-width="27.62" />
<path d="M 1242,612 L 773,1350 Q 760,1372 745,1360 L 700,1295" fill="none" stroke-width="27.62" />
<path d="M 1190,750 L 1560,690" fill="none" stroke-width="27.62" />
<path d="M 960,200 L 950,380 Q 1010,440 1110,465 L 1140,440 L 1205,410 L 1340,410 L 1392,442 L 1425,490 L 1392,530 L 1312,560 L 1290,640 L 1232,650 L 1200,700" fill="none" stroke-width="27.62" />
<path d="M 1242,470 L 1300,495 L 1285,540 L 1250,530 Z M 1322,455 L 1385,498 L 1360,515 L 1318,470 Z" fill="none" stroke-width="22.10" />
<path d="M 530,1180 L 600,1250 L 610,1700 L 480,1700 L 510,1450 L 470,1410 L 520,1330 Z" fill="#000" stroke="none" />
<path d="M 620,1310 L 650,1320 L 770,1400" fill="none" stroke-width="27.62" />
<path d="M 620,1310 L 605,1500 L 640,1580 L 600,1620" fill="none" stroke-width="27.62" />
<path d="M 420,1370 L 250,1700 M 480,1380 L 330,1700" fill="none" stroke-width="27.62" />
</g>
<g transform="translate(900 1130) scale(0.294118)">
<path d="M 500,278 L 540,258 L 1700,148" fill="none" stroke-width="17.68" />
<path d="M 548,292 L 1700,195" fill="none" stroke-width="15.91" />
<path d="M 548,318 L 1700,213" fill="none" stroke-width="15.91" />
<path d="M 1700,320 L 1215,440 L 1000,470 Q 950,490 945,520 L 945,590 L 930,612" fill="none" stroke-width="17.68" />
<path d="M 965,495 L 1035,485 L 1100,560 L 1075,620 L 1000,632 L 945,590" fill="none" stroke-width="17.68" />
<path d="M 1100,560 L 1180,540 L 1215,440" fill="none" stroke-width="17.68" />
<path d="M 1235,462 L 1700,545 M 1205,562 L 1700,548" fill="none" stroke-width="17.68" />
<path d="M 1120,590 L 1300,575 M 1110,612 L 1300,598 L 1320,575" fill="none" stroke-width="17.68" />
<path d="M 1040,660 L 1300,620 L 1700,582" fill="none" stroke-width="17.68" />
<path d="M 1020,702 L 1700,612" fill="none" stroke-width="17.68" />
<path d="M 1005,640 L 965,680 L 945,760 L 985,785" fill="none" stroke-width="24.48" />
<path d="M 1022,662 C 1022.0,663.3 1021.7,664.6 1021.2,665.8 C 1020.8,667.0 1020.0,668.2 1019.1,669.1 C 1018.2,670.0 1017.0,670.8 1015.8,671.2 C 1014.6,671.7 1013.3,672.0 1012.0,672.0 C 1010.7,672.0 1009.4,671.7 1008.2,671.2 C 1007.0,670.8 1005.8,670.0 1004.9,669.1 C 1004.0,668.2 1003.2,667.0 1002.8,665.8 C 1002.3,664.6 1002.0,663.3 1002.0,662.0 C 1002.0,660.7 1002.3,659.4 1002.8,658.2 C 1003.2,657.0 1004.0,655.8 1004.9,654.9 C 1005.8,654.0 1007.0,653.2 1008.2,652.8 C 1009.4,652.3 1010.7,652.0 1012.0,652.0 C 1013.3,652.0 1014.6,652.3 1015.8,652.8 C 1017.0,653.2 1018.2,654.0 1019.1,654.9 C 1020.0,655.8 1020.8,657.0 1021.2,658.2 C 1021.7,659.4 1022.0,660.7 1022.0,662.0 Z" fill="none" stroke-width="14.14" />
<path d="M 955,770 C 955.0,772.2 954.5,774.5 953.7,776.5 C 952.9,778.5 951.6,780.5 950.0,782.0 C 948.5,783.6 946.5,784.9 944.5,785.7 C 942.5,786.5 940.2,787.0 938.0,787.0 C 935.8,787.0 933.5,786.5 931.5,785.7 C 929.5,784.9 927.5,783.6 926.0,782.0 C 924.4,780.5 923.1,778.5 922.3,776.5 C 921.5,774.5 921.0,772.2 921.0,770.0 C 921.0,767.8 921.5,765.5 922.3,763.5 C 923.1,761.5 924.4,759.5 926.0,758.0 C 927.5,756.4 929.5,755.1 931.5,754.3 C 933.5,753.5 935.8,753.0 938.0,753.0 C 940.2,753.0 942.5,753.5 944.5,754.3 C 946.5,755.1 948.5,756.4 950.0,758.0 C 951.6,759.5 952.9,761.5 953.7,763.5 C 954.5,765.5 955.0,767.8 955.0,770.0 Z" fill="none" stroke-width="17.68" />
<path d="M 985,785 L 1088,918 L 1214,1082 L 1270,1107 L 1340,1096 L 1585,1028 L 1612,1020" fill="none" stroke-width="17.68" />
<path d="M 1612,1020 L 1620,900 Q 1640,865 1700,858 M 1640,890 L 1700,950" fill="none" stroke-width="17.68" />
<path d="M 915,755 C 913.3,765.8 919.2,799.2 905.0,820.0 C 890.8,840.8 854.2,860.0 830.0,880.0 C 805.8,900.0 780.3,918.3 760.0,940.0 C 739.7,961.7 719.3,990.0 708.0,1010.0 C 696.7,1030.0 692.5,1044.2 692.0,1060.0 C 691.5,1075.8 702.8,1097.5 705.0,1105.0" fill="none" stroke-width="17.68" />
<path d="M 705,1105 L 690,1128 L 655,1130 Q 625,1160 618,1200 L 592,1290 L 500,1440 L 452,1500" fill="none" stroke-width="17.68" />
<path d="M 951.8,835.0 L 466.1,1560.0" fill="none" stroke-width="17.68" />
<path d="M 1039.8,847.0 L 354.4,1870.0" fill="none" stroke-width="17.68" />
<path d="M 1068.3,880.0 L 418.4,1850.0" fill="none" stroke-width="17.68" />
<path d="M 1094.3,909.0 L 430.3,1900.0" fill="none" stroke-width="17.68" />
<path d="M 720,1110 Q 700,1040 770,950" fill="none" stroke-width="15.91" />
</g>
<g transform="translate(1380 1130) scale(0.294118)">
<path d="M 0,158 L 410,125 L 570,75 Q 612,68 632,100 L 648,250 L 672,480" fill="none" stroke-width="17.68" />
<path d="M 0,188 L 390,157 M 450,135 L 578,100" fill="none" stroke-width="17.68" />
<path d="M 440,140 L 432,240 L 0,342" fill="none" stroke-width="17.68" />
<path d="M 458,150 Q 446,300 468,392" fill="none" stroke-width="17.68" />
<path d="M 385,265 Q 385,360 440,420 M 412,262 Q 420,350 458,395 M 432,240 L 372,265" fill="none" stroke-width="17.68" />
<path d="M 550,322 L 345,520 M 578,350 L 388,525 M 560,320 L 600,318 L 645,400 M 640,398 L 580,480" fill="none" stroke-width="17.68" />
<path d="M 636,337 C 636.0,338.8 635.6,340.7 634.9,342.4 C 634.3,344.0 633.2,345.6 631.9,346.9 C 630.6,348.2 629.0,349.3 627.4,349.9 C 625.7,350.6 623.8,351.0 622.0,351.0 C 620.2,351.0 618.3,350.6 616.6,349.9 C 615.0,349.3 613.4,348.2 612.1,346.9 C 610.8,345.6 609.7,344.0 609.1,342.4 C 608.4,340.7 608.0,338.8 608.0,337.0 C 608.0,335.2 608.4,333.3 609.1,331.6 C 609.7,330.0 610.8,328.4 612.1,327.1 C 613.4,325.8 615.0,324.7 616.6,324.1 C 618.3,323.4 620.2,323.0 622.0,323.0 C 623.8,323.0 625.7,323.4 627.4,324.1 C 629.0,324.7 630.6,325.8 631.9,327.1 C 633.2,328.4 634.3,330.0 634.9,331.6 C 635.6,333.3 636.0,335.2 636.0,337.0 Z" fill="none" stroke-width="17.68" />
<path d="M 0,585 L 670,492 L 1335,412" fill="none" stroke-width="17.68" />
<path d="M 0,618 L 690,512 L 1330,442" fill="none" stroke-width="17.68" />
<path d="M 0,520 Q 45,525 45,535 Q 40,548 0,548" fill="none" stroke-width="17.68" />
<path d="M 0,870 L 290,800 L 1040,620 L 1330,545" fill="none" stroke-width="17.68" />
<path d="M 290,800 L 300,840 L 335,865" fill="none" stroke-width="17.68" />
<path d="M 1330,400 L 1470,357 Q 1530,352 1548,400 L 1585,650 L 1640,1200 L 1657,1440 Q 1655,1490 1600,1520 Q 1580,1470 1545,1450 Q 1510,1455 1495,1500 L 1420,1497 L 1360,1000 L 1340,560 L 1355,440 L 1520,390" fill="none" stroke-width="17.68" />
<path d="M 1480,1480 Q 1490,1420 1545,1388 Q 1600,1385 1635,1425" fill="none" stroke-width="17.68" />
<path d="M 1240,600 L 1290,1000 L 1310,1400 Q 1320,1470 1390,1495 L 1420,1497 M 1300,590 L 1340,960" fill="none" stroke-width="17.68" />
<path d="M 1290,1040 L 1350,1030 M 1300,1110 L 1365,1140" fill="none" stroke-width="15.91" />
<path d="M 1462,540 C 1462.0,544.3 1461.2,549.0 1459.7,553.0 C 1458.3,557.0 1455.9,561.0 1453.2,564.0 C 1450.5,567.1 1447.0,569.8 1443.5,571.4 C 1439.9,573.1 1435.8,574.0 1432.0,574.0 C 1428.2,574.0 1424.1,573.1 1420.5,571.4 C 1417.0,569.8 1413.5,567.1 1410.8,564.0 C 1408.1,561.0 1405.7,557.0 1404.3,553.0 C 1402.8,549.0 1402.0,544.3 1402.0,540.0 C 1402.0,535.7 1402.8,531.0 1404.3,527.0 C 1405.7,523.0 1408.1,519.0 1410.8,516.0 C 1413.5,512.9 1417.0,510.2 1420.5,508.6 C 1424.1,506.9 1428.2,506.0 1432.0,506.0 C 1435.8,506.0 1439.9,506.9 1443.5,508.6 C 1447.0,510.2 1450.5,512.9 1453.2,516.0 C 1455.9,519.0 1458.3,523.0 1459.7,527.0 C 1461.2,531.0 1462.0,535.7 1462.0,540.0 Z" fill="none" stroke-width="22.78" />
<path d="M 1466,1030 C 1466.0,1033.8 1465.3,1037.9 1464.0,1041.5 C 1462.8,1045.0 1460.7,1048.5 1458.4,1051.2 C 1456.0,1053.9 1453.0,1056.3 1449.9,1057.7 C 1446.9,1059.2 1443.3,1060.0 1440.0,1060.0 C 1436.7,1060.0 1433.1,1059.2 1430.1,1057.7 C 1427.0,1056.3 1424.0,1053.9 1421.6,1051.2 C 1419.3,1048.5 1417.2,1045.0 1416.0,1041.5 C 1414.7,1037.9 1414.0,1033.8 1414.0,1030.0 C 1414.0,1026.2 1414.7,1022.1 1416.0,1018.5 C 1417.2,1015.0 1419.3,1011.5 1421.6,1008.8 C 1424.0,1006.1 1427.0,1003.7 1430.1,1002.3 C 1433.1,1000.8 1436.7,1000.0 1440.0,1000.0 C 1443.3,1000.0 1446.9,1000.8 1449.9,1002.3 C 1453.0,1003.7 1456.0,1006.1 1458.4,1008.8 C 1460.7,1011.5 1462.8,1015.0 1464.0,1018.5 C 1465.3,1022.1 1466.0,1026.2 1466.0,1030.0 Z" fill="none" stroke-width="22.78" />
<path d="M 1566,1082 C 1566.0,1086.1 1565.3,1090.5 1564.0,1094.2 C 1562.8,1098.0 1560.7,1101.7 1558.4,1104.6 C 1556.0,1107.5 1553.0,1110.0 1549.9,1111.6 C 1546.9,1113.1 1543.3,1114.0 1540.0,1114.0 C 1536.7,1114.0 1533.1,1113.1 1530.1,1111.6 C 1527.0,1110.0 1524.0,1107.5 1521.6,1104.6 C 1519.3,1101.7 1517.2,1098.0 1516.0,1094.2 C 1514.7,1090.5 1514.0,1086.1 1514.0,1082.0 C 1514.0,1077.9 1514.7,1073.5 1516.0,1069.8 C 1517.2,1066.0 1519.3,1062.3 1521.6,1059.4 C 1524.0,1056.5 1527.0,1054.0 1530.1,1052.4 C 1533.1,1050.9 1536.7,1050.0 1540.0,1050.0 C 1543.3,1050.0 1546.9,1050.9 1549.9,1052.4 C 1553.0,1054.0 1556.0,1056.5 1558.4,1059.4 C 1560.7,1062.3 1562.8,1066.0 1564.0,1069.8 C 1565.3,1073.5 1566.0,1077.9 1566.0,1082.0 Z" fill="none" stroke-width="22.78" />
<path d="M 1010,955 L 1350,975 M 1010,1000 L 1350,1020" fill="none" stroke-width="17.68" />
<path d="M 1110,905 L 1250,885 M 1250,600 L 1272,950 M 1100,620 L 1250,600 M 1120,650 L 1210,620 L 1150,700" fill="none" stroke-width="17.68" />
<path d="M 1040,632 Q 1115,760 1060,930 M 1092,622 Q 1160,770 1105,915" fill="none" stroke-width="17.68" />
<path d="M 440,830 L 500,857 L 880,882 L 1000,765 L 1045,740 M 340,1000 L 940,1050 M 880,882 L 905,905 M 945,905 L 985,930 L 1010,1000 M 900,860 L 1010,800" fill="none" stroke-width="17.68" />
<path d="M 770,905 Q 750,905 750,935 L 755,970 Q 760,990 790,988 L 920,990 M 770,930 L 900,935 L 905,965 L 780,962 Z" fill="none" stroke-width="17.68" />
<path d="M 920,900 Q 990,900 990,960 Q 985,1025 930,1020 L 700,1045" fill="none" stroke-width="17.68" />
<path d="M 665,1055 L 280,1430 L 0,1685 M 715,1060 L 310,1460 L 30,1700 M 940,1050 L 400,1530 L 235,1700 M 280,1430 L 320,1470 L 420,1530" fill="none" stroke-width="17.68" />
<path d="M 430,820 Q 340,850 250,1000 L 30,1320 L 65,1380 L 240,1060 Q 330,900 445,832" fill="none" stroke-width="17.68" />
<path d="M 190,1160 L 190,1340 L 165,1395 L 210,1420 L 245,1390 L 235,1250 Q 240,1080 330,960" fill="none" stroke-width="17.68" />
<path d="M 218,1388 C 218.0,1389.5 217.7,1391.2 217.2,1392.6 C 216.8,1394.0 216.0,1395.4 215.1,1396.5 C 214.2,1397.6 213.0,1398.5 211.8,1399.1 C 210.6,1399.7 209.3,1400.0 208.0,1400.0 C 206.7,1400.0 205.4,1399.7 204.2,1399.1 C 203.0,1398.5 201.8,1397.6 200.9,1396.5 C 200.0,1395.4 199.2,1394.0 198.8,1392.6 C 198.3,1391.2 198.0,1389.5 198.0,1388.0 C 198.0,1386.5 198.3,1384.8 198.8,1383.4 C 199.2,1382.0 200.0,1380.6 200.9,1379.5 C 201.8,1378.4 203.0,1377.5 204.2,1376.9 C 205.4,1376.3 206.7,1376.0 208.0,1376.0 C 209.3,1376.0 210.6,1376.3 211.8,1376.9 C 213.0,1377.5 214.2,1378.4 215.1,1379.5 C 216.0,1380.6 216.8,1382.0 217.2,1383.4 C 217.7,1384.8 218.0,1386.5 218.0,1388.0 Z" fill="none" stroke-width="14.14" />
<path d="M 0,900 L 100,995 L 250,960 M 430,820 Q 460,810 485,850" fill="none" stroke-width="17.68" />
</g>
<g transform="translate(1050 1480) scale(0.294118)">
<path d="M 405,155 L 375,420 M 432,170 L 410,330" fill="none" stroke-width="17.68" />
<path d="M 795,710 L 850,630 L 985,570 L 1010,600 L 1095,680 L 1035,745 L 1050,850 L 1075,1000 L 1115,1065 L 990,1095 L 940,1040 L 870,985 L 825,960 L 820,900 L 795,710" fill="none" stroke-width="17.68" />
<path d="M 908,925 C 908.0,928.6 907.2,932.4 905.9,935.7 C 904.5,939.0 902.3,942.3 899.8,944.8 C 897.3,947.3 894.0,949.5 890.7,950.9 C 887.4,952.2 883.6,953.0 880.0,953.0 C 876.4,953.0 872.6,952.2 869.3,950.9 C 866.0,949.5 862.7,947.3 860.2,944.8 C 857.7,942.3 855.5,939.0 854.1,935.7 C 852.8,932.4 852.0,928.6 852.0,925.0 C 852.0,921.4 852.8,917.6 854.1,914.3 C 855.5,911.0 857.7,907.7 860.2,905.2 C 862.7,902.7 866.0,900.5 869.3,899.1 C 872.6,897.8 876.4,897.0 880.0,897.0 C 883.6,897.0 887.4,897.8 890.7,899.1 C 894.0,900.5 897.3,902.7 899.8,905.2 C 902.3,907.7 904.5,911.0 905.9,914.3 C 907.2,917.6 908.0,921.4 908.0,925.0 Z" fill="none" stroke-width="17.68" />
<path d="M 955,1020 L 1065,995 L 1085,1045" fill="none" stroke-width="17.68" />
<path d="M 390,555 L 655,890 L 685,935 L 800,915 L 820,900" fill="none" stroke-width="17.68" />
<path d="M 455,495 L 765,790 L 680,870 L 655,890 M 765,790 L 800,840" fill="none" stroke-width="17.68" />
<path d="M 637,515 C 637.0,518.8 636.2,522.9 634.7,526.5 C 633.3,530.0 630.9,533.5 628.2,536.2 C 625.5,538.9 622.0,541.3 618.5,542.7 C 614.9,544.2 610.8,545.0 607.0,545.0 C 603.2,545.0 599.1,544.2 595.5,542.7 C 592.0,541.3 588.5,538.9 585.8,536.2 C 583.1,533.5 580.7,530.0 579.3,526.5 C 577.8,522.9 577.0,518.8 577.0,515.0 C 577.0,511.2 577.8,507.1 579.3,503.5 C 580.7,500.0 583.1,496.5 585.8,493.8 C 588.5,491.1 592.0,488.7 595.5,487.3 C 599.1,485.8 603.2,485.0 607.0,485.0 C 610.8,485.0 614.9,485.8 618.5,487.3 C 622.0,488.7 625.5,491.1 628.2,493.8 C 630.9,496.5 633.3,500.0 634.7,503.5 C 636.2,507.1 637.0,511.2 637.0,515.0 Z" fill="none" stroke-width="17.68" />
<path d="M 590,545 L 700,690 L 770,770 M 640,520 L 775,740" fill="none" stroke-width="17.68" />
<path d="M 510,225 L 560,195 L 640,290 L 710,370 L 840,620 L 800,690 M 530,300 L 660,440 L 790,700" fill="none" stroke-width="17.68" />
<path d="M 275,510 C 275.0,515.4 273.9,521.1 272.0,526.1 C 270.0,531.0 266.9,535.9 263.3,539.7 C 259.7,543.5 255.0,546.8 250.3,548.8 C 245.6,550.9 240.1,552.0 235.0,552.0 C 229.9,552.0 224.4,550.9 219.7,548.8 C 215.0,546.8 210.3,543.5 206.7,539.7 C 203.1,535.9 200.0,531.0 198.0,526.1 C 196.1,521.1 195.0,515.4 195.0,510.0 C 195.0,504.6 196.1,498.9 198.0,493.9 C 200.0,489.0 203.1,484.1 206.7,480.3 C 210.3,476.5 215.0,473.2 219.7,471.2 C 224.4,469.1 229.9,468.0 235.0,468.0 C 240.1,468.0 245.6,469.1 250.3,471.2 C 255.0,473.2 259.7,476.5 263.3,480.3 C 266.9,484.1 270.0,489.0 272.0,493.9 C 273.9,498.9 275.0,504.6 275.0,510.0 Z" fill="none" stroke-width="17.68" />
<path d="M 195,500 Q 160,480 180,450 Q 210,415 260,430 Q 285,440 290,470" fill="none" stroke-width="17.68" />
<path d="M 265,310 L 310,235 L 375,290 L 330,365 Z M 230,340 L 262,312" fill="none" stroke-width="17.68" />
<path d="M 1122,496 L 1020,580 M 1357,510 L 1306,556 L 1110,700 M 1152,510 L 1060,590" fill="none" stroke-width="17.68" />
<path d="M 1180,490 L 1300,570 M 1040,600 L 1130,680" fill="none" stroke-width="17.68" />
<path d="M 1022,578 L 1192,440" fill="none" stroke-width="31.28" />
</g>
<g transform="translate(620 1780) scale(0.294118)">
<path d="M 195,170 L 222,470 L 250,497 L 420,507 L 460,495 L 430,445 L 285,440 L 265,425" fill="none" stroke-width="17.68" />
<path d="M 222,170 L 262,425" fill="none" stroke-width="15.91" />
<path d="M 265,170 L 295,370" fill="none" stroke-width="17.68" />
<path d="M 262,465 L 405,472" fill="none" stroke-width="14.14" />
<path d="M 455,170 L 295,370" fill="none" stroke-width="17.68" />
<path d="M 460,495 L 655,490 M 880,490 L 970,480 L 1340,330 Q 1385,300 1385,268 L 1340,50 L 1330,0" fill="none" stroke-width="17.68" />
<path d="M 780,268 L 935,305 L 850,520 L 690,868 L 505,795 L 655,510 Z" fill="#000" stroke="none" />
<path d="M 470,855 L 650,910 L 645,978 L 395,980 Z" fill="#000" stroke="none" />
<path d="M 1356,14 L 1377,6 L 1415,42 L 1418,70 L 1363,49 Z" fill="#000" stroke="none" />
</g>
<g transform="translate(0 0) scale(1.000000)">
<path d="M 1167,1577 C 1165.2,1584.3 1159.7,1607.7 1156.0,1621.0 C 1152.3,1634.3 1149.3,1641.3 1145.0,1657.0 C 1140.7,1672.7 1135.3,1695.2 1130.0,1715.0 C 1124.7,1734.8 1119.6,1753.5 1113.0,1776.0 C 1106.4,1798.5 1099.0,1825.2 1090.5,1850.0 C 1082.0,1874.8 1072.8,1900.0 1062.0,1925.0 C 1051.2,1950.0 1039.0,1975.5 1026.0,2000.0 C 1013.0,2024.5 991.0,2060.0 984.0,2072.0 L 1052,2072 C 1056.8,2057.5 1072.2,2011.2 1081.0,1985.0 C 1089.8,1958.8 1097.8,1937.5 1105.0,1915.0 C 1112.2,1892.5 1118.2,1871.7 1124.0,1850.0 C 1129.8,1828.3 1135.2,1807.5 1140.0,1785.0 C 1144.8,1762.5 1149.1,1738.3 1153.0,1715.0 C 1156.9,1691.7 1161.0,1660.7 1163.5,1645.0 C 1166.0,1629.3 1166.6,1632.3 1168.0,1621.0 C 1169.4,1609.7 1171.3,1584.3 1172.0,1577.0 Z" fill="#000" stroke="none" />
</g>
<g transform="translate(1150 1400) scale(0.205888)">
<path d="M 55,545 L 205,300 L 350,390 L 200,625 Z" fill="none" stroke-width="20.21" />
<path d="M 125,520 L 200,500 L 165,565 Z" fill="none" stroke-width="17.68" />
<path d="M 210,370 L 250,470 M 180,440 L 240,420 M 230,360 L 300,400 M 280,380 L 290,410" fill="none" stroke-width="22.73" />
<path d="M 520,235 L 300,615 L 370,700 L 440,620 L 440,545" fill="none" stroke-width="25.26" />
<path d="M 445,538 L 800,232 Q 832,222 845,252 L 480,590 Q 440,600 445,538 Z" fill="none" stroke-width="25.26" />
<path d="M 475,580 L 1000,288 L 1190,92" fill="none" stroke-width="25.26" />
<path d="M 640,480 L 975,300 L 1100,440 L 860,672 L 745,545" fill="none" stroke-width="25.26" />
<path d="M 872,618 L 1052,448 Q 1060,435 1045,428 L 850,598" fill="none" stroke-width="20.21" />
<path d="M 620,500 L 712,592 L 570,770 L 450,682 L 445,620 M 712,592 L 745,545" fill="none" stroke-width="25.26" />
<path d="M 400,712 L 530,822 L 505,880 L 395,752 Z" fill="none" stroke-width="25.26" />
<path d="M 570,770 L 530,900" fill="none" stroke-width="25.26" />
<path d="M 232,787 C 232.0,790.1 231.4,793.4 230.3,796.2 C 229.3,799.0 227.5,801.8 225.6,804.0 C 223.6,806.1 221.0,808.0 218.4,809.2 C 215.8,810.3 212.8,811.0 210.0,811.0 C 207.2,811.0 204.2,810.3 201.6,809.2 C 199.0,808.0 196.4,806.1 194.4,804.0 C 192.5,801.8 190.7,799.0 189.7,796.2 C 188.6,793.4 188.0,790.1 188.0,787.0 C 188.0,783.9 188.6,780.6 189.7,777.8 C 190.7,775.0 192.5,772.2 194.4,770.0 C 196.4,767.9 199.0,766.0 201.6,764.8 C 204.2,763.7 207.2,763.0 210.0,763.0 C 212.8,763.0 215.8,763.7 218.4,764.8 C 221.0,766.0 223.6,767.9 225.6,770.0 C 227.5,772.2 229.3,775.0 230.3,777.8 C 231.4,780.6 232.0,783.9 232.0,787.0 Z" fill="none" stroke-width="25.26" />
<path d="M 135,870 Q 160,830 185,870 L 200,1040 Q 172,1065 150,1040 Z" fill="none" stroke-width="25.26" />
</g>
<g transform="translate(0 0) scale(1.000000)">
<path d="M 521,2068 L 1274,2068 Q 1290,2068 1290,2084 L 1290,2459 Q 1290,2475 1274,2475 L 521,2475 Q 505,2475 505,2459 L 505,2084 Q 505,2068 521,2068 Z M 526,2085.5 L 1269.5,2085.5 Q 1272,2085.5 1272,2088 L 1272,2453.5 Q 1272,2456 1269.5,2456 L 526,2456 Q 523.5,2456 523.5,2453.5 L 523.5,2088 Q 523.5,2085.5 526,2085.5 Z" fill="#000" stroke="none" fill-rule="evenodd"/>
<path d="M 897.5,2085 L 900,2456" fill="none" stroke-width="3.20" />
</g>
<g transform="translate(520 2100) scale(0.223529)">
<path d="M 843,84 Q 862,84 876,104 L 1640,1372 Q 1662,1428 1612,1432 L 104,1432 Q 52,1428 76,1372 L 810,104 Q 824,84 843,84 Z" fill="none" stroke-width="8.95" />
<path d="M 843,100 L 1632,1418 L 86,1418 Z M 843,210 L 190,1340 L 1525,1338 Z" fill="#000" stroke="none" fill-rule="evenodd"/>
<path d="M 605,705 L 1105,705 L 1105,838 L 605,838 Z M 825,728 L 878,728 L 878,780 L 852,812 L 825,780 Z" fill="#000" stroke="none" fill-rule="evenodd"/>
<path d="M 813,885 C 813.0,891.1 811.7,897.7 809.3,903.4 C 807.0,909.0 803.3,914.6 798.9,918.9 C 794.6,923.3 789.0,927.0 783.4,929.3 C 777.7,931.7 771.1,933.0 765.0,933.0 C 758.9,933.0 752.3,931.7 746.6,929.3 C 741.0,927.0 735.4,923.3 731.1,918.9 C 726.7,914.6 723.0,909.0 720.7,903.4 C 718.3,897.7 717.0,891.1 717.0,885.0 C 717.0,878.9 718.3,872.3 720.7,866.6 C 723.0,861.0 726.7,855.4 731.1,851.1 C 735.4,846.7 741.0,843.0 746.6,840.7 C 752.3,838.3 758.9,837.0 765.0,837.0 C 771.1,837.0 777.7,838.3 783.4,840.7 C 789.0,843.0 794.6,846.7 798.9,851.1 C 803.3,855.4 807.0,861.0 809.3,866.6 C 811.7,872.3 813.0,878.9 813.0,885.0 Z" fill="#000" stroke="none" />
<path d="M 738,830 L 772,830 L 775,860 L 740,860 Z" fill="#000" stroke="none" />
<path d="M 845,898 L 870,898 L 990,1010 L 995,1030 L 985,1150 L 1010,1165 L 1055,1155 L 1072,1175 L 1060,1205 L 1135,1265 L 1112,1295 L 1000,1215 L 850,1240 L 822,1215 L 895,1075 L 890,1050 L 845,1010 L 825,1010 L 700,1160 L 665,1135 L 760,1010 L 745,1000 L 640,1055 L 612,1035 L 625,1012 L 800,925 Z M 925,1110 L 940,1110 L 930,1180 L 900,1175 Z" fill="#000" stroke="none" fill-rule="evenodd"/>
</g>
<g transform="translate(895 2080) scale(0.235294)">
<path d="M 375,515 C 375.0,526.7 372.5,539.4 368.0,550.2 C 363.5,561.0 356.4,571.8 348.1,580.1 C 339.8,588.4 329.0,595.5 318.2,600.0 C 307.4,604.5 294.7,607.0 283.0,607.0 C 271.3,607.0 258.6,604.5 247.8,600.0 C 237.0,595.5 226.2,588.4 217.9,580.1 C 209.6,571.8 202.5,561.0 198.0,550.2 C 193.5,539.4 191.0,526.7 191.0,515.0 C 191.0,503.3 193.5,490.6 198.0,479.8 C 202.5,469.0 209.6,458.2 217.9,449.9 C 226.2,441.6 237.0,434.5 247.8,430.0 C 258.6,425.5 271.3,423.0 283.0,423.0 C 294.7,423.0 307.4,425.5 318.2,430.0 C 329.0,434.5 339.8,441.6 348.1,449.9 C 356.4,458.2 363.5,469.0 368.0,479.8 C 372.5,490.6 375.0,503.3 375.0,515.0 Z" fill="#000" stroke="none" />
<path d="M 102,625 L 465,625 Q 525,625 525,690 L 528,1030 Q 528,1075 483,1075 Q 438,1075 437,1030 L 437,705 L 405,705 L 408,1455 Q 408,1500 364,1500 Q 320,1500 320,1455 L 320,1120 Q 318,1090 285,1090 Q 252,1090 250,1120 L 250,1455 Q 250,1502 206,1502 Q 162,1502 162,1455 L 158,705 L 130,705 L 130,1035 Q 130,1080 86,1080 Q 42,1080 42,1035 L 42,690 Q 42,625 102,625 Z" fill="#000" stroke="none" />
<path d="M 560,997 L 808,858 L 808,940 L 982,940 L 982,858 L 1225,992 L 982,1135 L 982,1058 L 808,1058 L 808,1135 Z" fill="#000" stroke="none" />
<path d="M 822,230 L 1275,55 L 1278,250 Q 1275,300 1255,322 Q 1225,365 1190,375 Q 1150,390 1110,385 Q 1070,378 1040,360 Z" fill="#000" stroke="none" />
<path d="M 1270,318 L 1580,488 L 1580,585 L 1218,378 Z" fill="#000" stroke="none" />
<path d="M 1250,680 L 1580,680 L 1580,1016 A 252,252 0 0,0 1343,1138 L 1250,1138 Z" fill="#000" stroke="none" />
<path d="M 1580,1030 A 238,238 0 0,0 1580,1505 L 1580,1352 A 86,86 0 0,1 1580,1183 Z" fill="#000" stroke="none" />
</g>
</svg>
</body></html>
